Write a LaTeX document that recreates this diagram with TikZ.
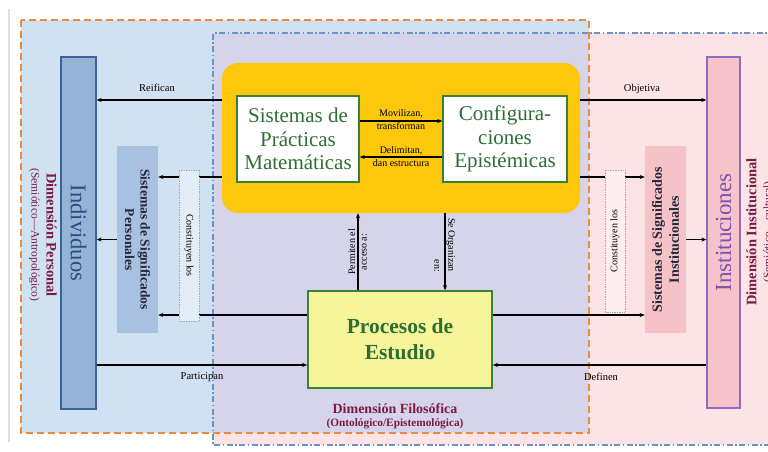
\documentclass[tikz,border=0pt]{standalone}
\usepackage{fontspec}
\setmainfont{Liberation Serif}
\usepackage{graphicx}
\usetikzlibrary{arrows.meta,calc}
\definecolor{bluebg}{HTML}{D0E1F2}
\definecolor{lavbg}{HTML}{D5D4EA}
\definecolor{pinkbg}{HTML}{FBE3E6}
\definecolor{orangedash}{HTML}{EE8A3C}
\definecolor{bluedash}{HTML}{6A95C8}
\definecolor{indfill}{HTML}{95B3D7}
\definecolor{inddraw}{HTML}{3B6496}
\definecolor{indtext}{HTML}{2B4C7E}
\definecolor{sspfill}{HTML}{A8C1E1}
\definecolor{ssifill}{HTML}{F4C2C7}
\definecolor{instfill}{HTML}{F5C3C9}
\definecolor{instdraw}{HTML}{8E6CBF}
\definecolor{insttext}{HTML}{7B52AE}
\definecolor{yel}{HTML}{FDC70C}
\definecolor{procfill}{HTML}{F7F59A}
\definecolor{grn}{HTML}{3A7F3A}
\definecolor{grntext}{HTML}{2E6E35}
\definecolor{maroon}{HTML}{7A1B45}
\definecolor{darktext}{HTML}{26263A}
\begin{document}
\begin{tikzpicture}[x=1pt,y=-1pt,
  arr/.style={-{Stealth[length=5pt,width=4pt]}, line width=1.1pt, black},
  lbl/.style={font=\fontsize{10.5}{12.5}\selectfont, inner sep=0pt, align=center},
  greenbox/.style={draw=grn, line width=1.3pt, fill=white, inner sep=0pt,
    font=\fontsize{21}{23.5}\selectfont, text=grntext, align=center},
  dotbox/.style={draw=gray!70, densely dotted, line width=0.7pt, inner sep=0pt},
  dimtitle/.style={font=\bfseries\fontsize{14.5}{15}\selectfont, text=maroon, inner sep=0pt, align=center},
]
\useasboundingbox (0,0) rectangle (768,451);
\fill[white] (0,0) rectangle (768,451);
\draw[gray!25, line width=1.5pt] (9,9) -- (9,442);
% backgrounds
\fill[pinkbg] (213,33) rectangle (775,445);
\fill[bluebg] (21,20) rectangle (589,433);
\fill[lavbg] (213,33) rectangle (589,433);
\draw[orangedash, line width=2pt, dash pattern=on 7pt off 4pt] (21,20) rectangle (589,433);
\draw[bluedash, line width=1.2pt, dash pattern=on 6pt off 2.5pt on 1.5pt off 2.5pt] (775,33) -- (213,33) -- (213,445) -- (775,445);

% main boxes
\node[draw=inddraw, fill=indfill, line width=1.3pt, minimum width=35pt, minimum height=352pt, inner sep=0pt] (ind) at (78.5,233) {};
\node[rotate=-90, font=\fontsize{22.5}{24}\selectfont, text=indtext, inner sep=0pt] (indt) at (ind.center) {Individuos};
\node[fill=sspfill, minimum width=41pt, minimum height=187pt, inner sep=0pt] (ssp) at (137.5,239.5) {};
\node[rotate=-90, font=\bfseries\fontsize{13.5}{15.5}\selectfont, text=darktext, align=center, inner sep=0pt] (sspt) at (ssp.center) {Sistemas de Significados\\Personales};
\node[dimtitle, rotate=-90] (dimp) at (43,235) {Dimensión Personal\\{\mdseries\fontsize{11.5}{15}\selectfont(Semiótico---Antropológico)}};

\node[fill=yel, rounded corners=16pt, minimum width=358pt, minimum height=150pt, inner sep=0pt] (yel) at (401,138) {};
\node[greenbox, minimum width=122pt, minimum height=86pt] (spm) at (298,139) {Sistemas de\\Prácticas\\Matemáticas};
\node[greenbox, minimum width=124pt, minimum height=86pt] (ce) at (505,139) {Configura-\\ciones\\Epistémicas};

\node[draw=grn, line width=1.5pt, fill=procfill, minimum width=184pt, minimum height=97pt, inner sep=0pt,
  font=\bfseries\fontsize{21.5}{26}\selectfont, text=grntext, align=center] (proc) at (400,339.5) {Procesos de\\Estudio};

\node[fill=ssifill, minimum width=41pt, minimum height=187pt, inner sep=0pt] (ssi) at (665.5,239.5) {};
\node[rotate=90, font=\bfseries\fontsize{14}{17}\selectfont, text=darktext, align=center, inner sep=0pt] (ssit) at (ssi.center) {Sistemas de Significados\\Institucionales};
\node[draw=instdraw, fill=instfill, line width=1.3pt, minimum width=33pt, minimum height=351pt, inner sep=0pt] (inst) at (723.5,232.5) {};
\node[rotate=90, font=\fontsize{23}{24}\selectfont, text=insttext, inner sep=0pt] (instt) at (inst.center) {Instituciones};
\node[dimtitle, rotate=90] (dimi) at (760,232) {Dimensión Institucional\\{\mdseries\fontsize{11.5}{15}\selectfont(Semiótico---cultural)}};

% arrows
\draw[arr] (yel.west |- 0,100) -- (ind.east |- 0,100);
\node[lbl] (reif) at (157,88) {Reifican};
\draw[arr] (yel.east |- 0,100) -- (inst.west |- 0,100);
\node[lbl] (obj) at (642,89) {Objetiva};

\draw[arr] (yel.west |- 0,177) -- (ssp.east |- 0,177);
\draw[arr] (proc.west |- 0,315) -- (ssp.east |- 0,315);
\draw[arr] (ssp.west) -- (ssp.west -| ind.east);
\draw[arr] (ind.east |- 0,365) -- (proc.west |- 0,365);
\node[lbl] (part) at (202,377) {Participan};

\draw[arr] (yel.east |- 0,177) -- (ssi.west |- 0,177);
\draw[arr] (proc.east |- 0,315) -- (ssi.west |- 0,315);
\draw[arr] (ssi.east) -- (ssi.east -| inst.west);
\draw[arr] (inst.west |- 0,365) -- (proc.east |- 0,365);
\node[lbl] (def) at (601,377) {Definen};

\draw[arr] (spm.east |- 0,121) -- (ce.west |- 0,121);
\node[lbl, font=\fontsize{10}{13}\selectfont] (mov) at (401,120) {Movilizan,\\transforman};
\draw[arr] (ce.west |- 0,157) -- (spm.east |- 0,157);
\node[lbl, font=\fontsize{10}{13}\selectfont] (del) at (401,156.5) {Delimitan,\\dan estructura};

\draw[arr] (proc.north -| 358,0) -- (yel.south -| 358,0);
\node[lbl, rotate=90, font=\fontsize{10}{11.5}\selectfont] (perm) at (357.5,252) {Permiten el\\acceso a:};
\draw[arr] (yel.south -| 445,0) -- (proc.north -| 445,0);
\node[lbl, rotate=-90, align=right, font=\fontsize{10}{14}\selectfont] (seorg) at (444.5,245) {Se Organizan\\en:};

% dotted boxes on top
\node[dotbox, fill=bluebg!60!white, minimum width=20pt, minimum height=151pt] (dl) at (189,245.5) {};
\node[rotate=-90, font=\fontsize{10}{12}\selectfont, inner sep=0pt] (dlt) at (dl.center) {Constituyen los};
\node[dotbox, fill=pinkbg!60!white, minimum width=20pt, minimum height=142pt] (dr) at (615,241) {};
\node[rotate=90, font=\fontsize{10}{12}\selectfont, inner sep=0pt] (drt) at (dr.center) {Constituyen los};

% philosophical dimension
\node[dimtitle, font=\bfseries\fontsize{14}{16}\selectfont] (dimf) at (395,409) {Dimensión Filosófica};
\node[font=\bfseries\fontsize{11.3}{12}\selectfont, text=maroon, inner sep=0pt] (dimfs) at (395,424) {(Ontológico/Epistemológica)};
\end{tikzpicture}
\end{document}
